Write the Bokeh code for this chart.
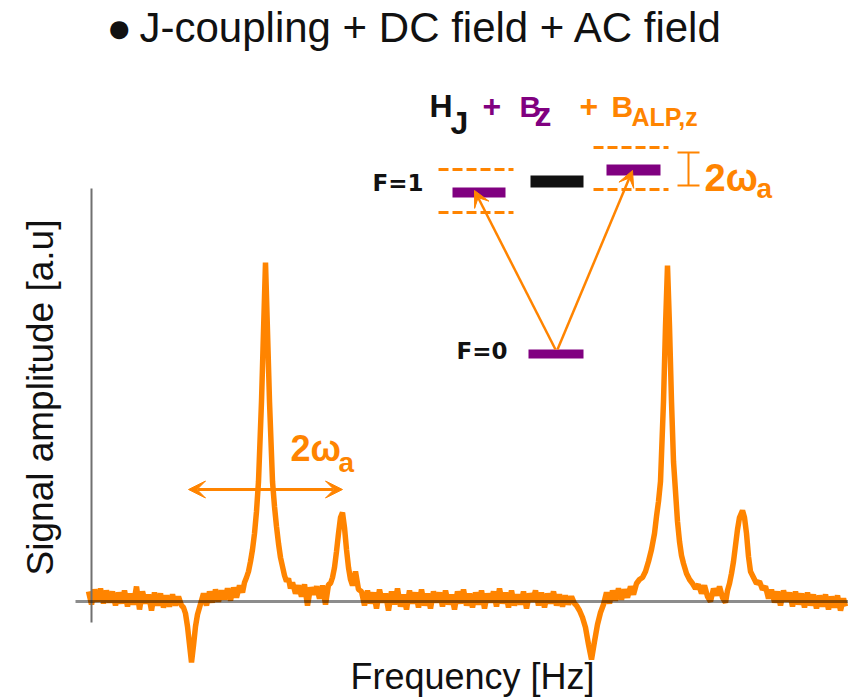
import math
from bokeh.plotting import figure
from bokeh.models import Range1d, Label, Arrow, VeeHead, BoxAnnotation
from bokeh.embed import file_html
from bokeh.resources import INLINE

# ---------------- data ----------------
# frequency in arbitrary Hz units (0 at the vertical axis), amplitude in a.u.
freq_hz = [
    -3, 0, 3, 6, 9, 12, 15, 18, 21, 24, 27, 30, 33, 36, 39, 42, 45, 48, 51, 54, 57, 60, 63, 66, 69, 72, 75, 78, 81, 84, 87, 90,
    92, 94, 96, 98, 100, 102, 104, 106, 108, 110,
    112, 115, 118, 121, 124, 127, 130, 133, 136, 139, 142, 145, 148, 151, 153,
    155, 157, 159, 161, 163, 165, 167, 170, 172, 174, 176, 178, 181, 183, 185, 187, 189, 191, 193, 195, 197, 199,
    201, 204, 207, 210, 213, 216, 219, 222, 225, 228, 231, 234, 237,
    239, 241, 243, 245, 247, 249, 251, 253, 255, 257, 259, 261, 264, 267,
    270, 273, 276, 279, 282, 285, 288, 291, 294, 297, 300, 303, 306, 309, 312, 315, 318, 321, 324, 327,
    330, 333, 336, 339, 342, 345, 348, 351, 354, 357, 360, 363, 366, 369, 372, 375, 378, 381, 384, 387,
    390, 393, 396, 399, 402, 405, 408, 411, 414, 417, 420, 423, 426, 429, 432, 435, 438, 441, 444, 447,
    450, 453, 456, 459, 462, 465, 468, 471, 474, 477, 480, 483,
    485, 488, 491, 494, 497, 500, 503, 506, 509, 512,
    515, 518, 521, 524, 527, 530, 533, 536, 539, 542, 545,
    548, 551, 554, 557, 560, 563, 565, 567, 569, 572, 574, 576, 578, 580, 582, 584, 586, 588, 590, 592, 595, 598, 601, 604, 607,
    610, 613, 616, 619, 622, 625, 628, 631, 634, 636,
    638, 640, 642, 644, 646, 648, 651, 653, 655, 657, 659, 662, 665, 668, 671, 674,
    677, 680, 683, 686, 689, 692, 695, 698, 701, 704, 707, 710, 713, 716, 719, 722, 725, 728, 731, 734, 737, 740, 743, 746, 749, 752, 754,
]
signal_au = [
    10, -3, 12, 0, 13, -2, 11, -1, 10, -4, 9, -2, 11, -5, 8, -3, 15, -8, 10, -2, 7, -9, 9, -4, 8, -6, 6, -5, 7, -4, 5, -4,
    -6, -12, -25, -43, -61, -44, -25, -13, -6, 1,
    8, -4, 10, -1, 12, 0, 11, 2, 13, 1, 14, 4, 16, 9, 19,
    24, 30, 40, 52, 68, 90, 120, 200, 270, 339, 270, 200, 120, 95, 75, 58, 44, 35, 26, 20, 23, 13,
    19, 8, 16, 5, 17, -4, 14, 7, 15, 3, 16, -3, 17,
    18, 24, 34, 50, 68, 84, 89, 74, 52, 34, 22, 16, 30, 12,
    10, -4, 11, -2, 9, -7, 12, -1, 8, -9, 10, -3, 13, -5, 7, -8, 11, -2, 9, -6,
    12, -4, 8, -7, 10, -1, 9, -5, 11, -3, 7, -8, 10, -2, 12, -4, 8, -6, 9, -3,
    11, -7, 8, -1, 10, -5, 13, -2, 9, -6, 11, -4, 7, -3, 10, -7, 8, 0, 11, -4,
    9, -6, 8, -2, 10, -4, 7, -5, 6, -3, 5, -2,
    -4, -9, -16, -26, -43, -58, -40, -23, -11, -3,
    9, -2, 11, 1, 13, 2, 12, 4, 15, 7, 18,
    22, 24, 30, 40, 52, 68, 85, 100, 120, 200, 275, 336, 275, 200, 140, 110, 80, 60, 46, 38, 28, 22, 18, 13, 17,
    8, 16, 5, 0, 13, 6, 15, 4, -1, 11,
    18, 28, 40, 56, 72, 84, 91, 84, 68, 45, 30, 24, 18, 20, 12, 15,
    3, 12, -1, 10, -4, 11, 0, 9, -5, 10, -3, 8, -6, 9, -4, 7, -7, 6, -5, 7, -8, 5, -6, 6, -9, 3, -5,
]
assert len(freq_hz) == len(signal_au)

title_text = "J-coupling + DC field + AC field"
x_label = "Frequency [Hz]"
y_label = "Signal amplitude [a.u]"

ORANGE = "#ff8400"
PURPLE = "#800080"
BLACK = "#111111"
SANS = "Liberation Sans"

# ---------------- figure ----------------
p = figure(width=848, height=697, x_range=Range1d(-91, 757), y_range=Range1d(-96, 601),
           output_backend="svg", toolbar_location=None,
           x_axis_location=None, y_axis_location=None, min_border=0)
p.outline_line_color = None
p.grid.visible = False
p.background_fill_color = "white"
p.border_fill_color = "white"

# spectrum
p.line(freq_hz, signal_au, line_color=ORANGE, line_width=5.5)

# axis lines (no ticks)
p.add_layout(Arrow(end=None, x_start=0, y_start=-21, x_end=0, y_end=413,
                   line_color="#707070", line_width=2))
p.add_layout(Arrow(end=None, x_start=-16, y_start=0, x_end=757, y_end=0,
                   line_color="black", line_alpha=0.45, line_width=3))

BASE_SHIFT = 0.33  # renderer places alphabetic baselines ~0.33 em low


def label(x, y, text, size, color=BLACK, font=SANS, style="normal", angle=0, align="left"):
    if angle == 0:
        y = y + BASE_SHIFT * size
    else:
        x = x - BASE_SHIFT * size
    p.add_layout(Label(x=x, y=y, text=text, text_font=font, text_font_size=f"{size}px",
                       text_color=color, text_font_style=style, angle=angle,
                       text_align=align, text_baseline="alphabetic"))


# title with bullet
label(15, 560, "\u25cf", 42)
label(48, 560, title_text, 42)

# axis labels
label(381, -87, x_label, 36, align="center")
label(-39, 204, y_label, 37, angle=math.pi / 2, align="center")

# Hamiltonian header
label(338, 485, "H", 32, BLACK, style="bold")
label(359, 468, "J", 32, BLACK, style="bold")
label(391, 485, "+", 32, PURPLE, style="bold")
label(428, 485, "B", 30, PURPLE, style="bold")
label(443, 476, "z", 34, PURPLE, style="bold")
label(488, 485, "+", 32, ORANGE, style="bold")
label(520, 485, "B", 30, ORANGE, style="bold")
label(540, 476, "ALP,z", 25, ORANGE, style="bold")

# level diagram
label(281, 411, "F=1", 23, BLACK, font="DejaVu Sans", style="bold")
label(365, 243, "F=0", 23, BLACK, font="DejaVu Sans", style="bold")

for (x0, x1, y) in [(347, 422, 432), (347, 422, 389), (502, 577, 454), (502, 577, 412)]:
    p.add_layout(Arrow(end=None, x_start=x0, y_start=y, x_end=x1, y_end=y,
                       line_color=ORANGE, line_width=3, line_dash="10 4"))

for (l, r, b, t, c) in [(361, 414, 404, 414, PURPLE), (439, 492, 414, 426, BLACK),
                        (515, 569, 426, 437, PURPLE), (437, 492, 243, 252, PURPLE)]:
    p.add_layout(BoxAnnotation(left=l, right=r, bottom=b, top=t, fill_color=c,
                               fill_alpha=1.0, line_color=None))

for (xs, ys, xe, ye) in [(464, 252, 383, 411), (466, 252, 541, 431)]:
    p.add_layout(Arrow(end=VeeHead(size=16, fill_color=ORANGE, line_color=ORANGE),
                       x_start=xs, y_start=ys, x_end=xe, y_end=ye,
                       line_color=ORANGE, line_width=2.5))

# bracket for 2 omega_a splitting
p.add_layout(Arrow(end=None, x_start=597, y_start=416, x_end=597, y_end=449, line_color=ORANGE, line_width=2))
p.add_layout(Arrow(end=None, x_start=586, y_start=449, x_end=608, y_end=449, line_color=ORANGE, line_width=2))
p.add_layout(Arrow(end=None, x_start=586, y_start=416, x_end=608, y_end=416, line_color=ORANGE, line_width=2))
label(613, 411, "2\u03c9", 38, ORANGE, style="bold")
label(665, 404, "a", 28, ORANGE, style="bold")

# double arrow on the spectrum
p.add_layout(Arrow(start=VeeHead(size=17, fill_color=ORANGE, line_color=ORANGE),
                   end=VeeHead(size=17, fill_color=ORANGE, line_color=ORANGE),
                   x_start=97, y_start=112, x_end=251, y_end=112,
                   line_color=ORANGE, line_width=3))
label(199, 141, "2\u03c9", 36, ORANGE, style="bold")
label(247, 130, "a", 28, ORANGE, style="bold")

html = file_html(p, INLINE, title="spectrum")
html = html.replace("<head>", "<head><style>html,body{margin:0;padding:0;}</style>", 1)
open("out.html", "w").write(html)
